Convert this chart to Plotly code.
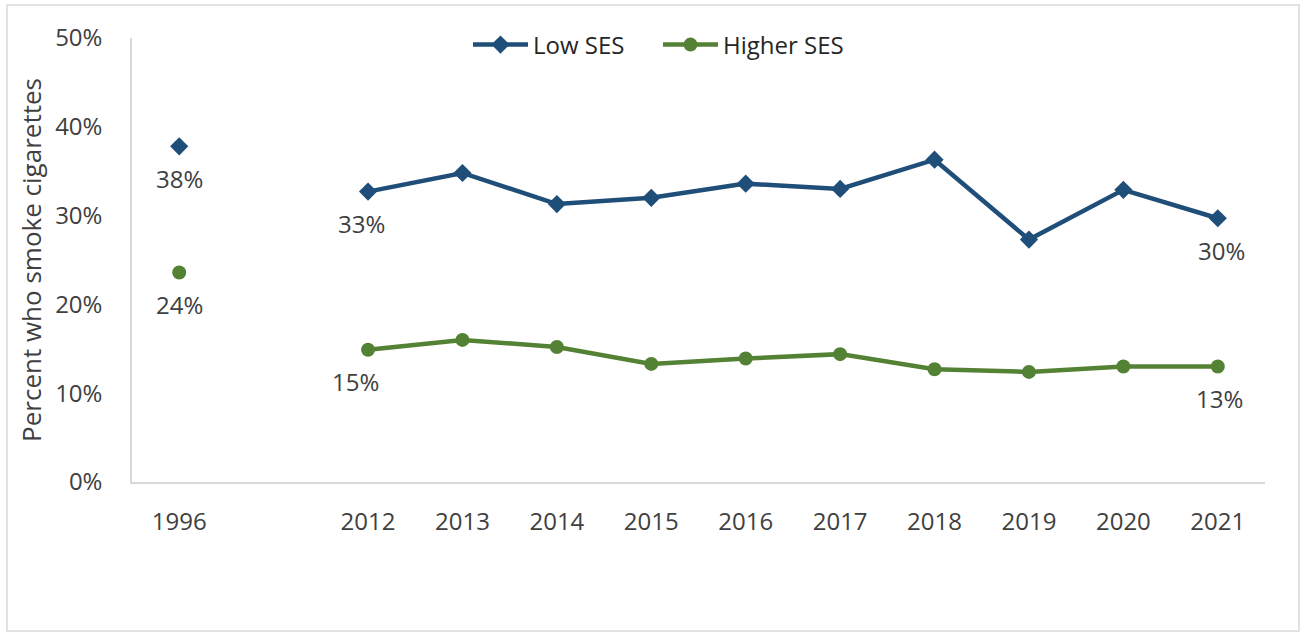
import plotly.graph_objects as go

# Survey years; the empty slot separates the 1996 baseline from the 2012+ series
years = ["1996", "", "2012", "2013", "2014", "2015", "2016", "2017", "2018", "2019", "2020", "2021"]
low_ses = [37.8, None, 32.7, 34.8, 31.3, 32.0, 33.6, 33.0, 36.3, 27.3, 32.9, 29.7]
higher_ses = [23.6, None, 14.9, 16.0, 15.2, 13.3, 13.9, 14.4, 12.7, 12.4, 13.0, 13.0]
labelled_years = ["1996", "2012", "2021"]
y_ticks = [0, 10, 20, 30, 40, 50]

BLUE = "#1F4E79"
GREEN = "#548235"
TEXT = "#404040"
FONT = "Open Sans"

W, H = 1303, 635
L, R, T, B = 132, 38, 38, 153

# one evenly spaced slot per entry in the year list
slots = list(range(len(years)))

fig = go.Figure()
fig.add_trace(go.Scatter(
    x=slots, y=low_ses, name="Low SES", mode="lines+markers",
    line=dict(color=BLUE, width=4.5),
    marker=dict(symbol="diamond", size=14, color=BLUE),
    connectgaps=False,
))
fig.add_trace(go.Scatter(
    x=slots, y=higher_ses, name="Higher SES", mode="lines+markers",
    line=dict(color=GREEN, width=4.5),
    marker=dict(symbol="circle", size=14, color=GREEN),
    connectgaps=False,
))

# Value labels under the first and last points of each series
xshifts = {
    "Low SES": {"1996": 0, "2012": -7, "2021": 4},
    "Higher SES": {"1996": 0, "2012": -13, "2021": 2},
}
for name, series in (("Low SES", low_ses), ("Higher SES", higher_ses)):
    for yr in labelled_years:
        i = years.index(yr)
        v = series[i]
        fig.add_annotation(
            x=slots[i], y=v, text=f"{round(v)}%", showarrow=False,
            xshift=xshifts[name][yr], yshift=-32,
            font=dict(family=FONT, size=24, color=TEXT),
        )

# Light frame around the whole chart
pw, ph = W - L - R, H - T - B
fig.add_shape(
    type="rect", xref="paper", yref="paper",
    x0=(7 - L) / pw, x1=(1299 - L) / pw,
    y0=1 - (631 - T) / ph, y1=1 - (5 - T) / ph,
    line=dict(color="#D9D9D9", width=1.5), fillcolor="rgba(0,0,0,0)", layer="below",
)

fig.update_layout(
    width=W, height=H,
    margin=dict(l=L, r=R, t=T, b=B),
    paper_bgcolor="white", plot_bgcolor="white",
    font=dict(family=FONT, color=TEXT, size=24),
    showlegend=True,
    legend=dict(
        orientation="h", x=(658 - L) / pw, xanchor="center",
        y=1 - (45 - T) / ph, yanchor="middle",
        font=dict(family=FONT, size=24, color="#262626"),
        bgcolor="rgba(0,0,0,0)", itemwidth=55, entrywidth=120,
    ),
    xaxis=dict(
        range=[-0.5, len(years) - 0.5], tickvals=slots, ticktext=years,
        showgrid=False, showline=True, linecolor="#D9D9D9", linewidth=1.5,
        ticks="", ticklabelstandoff=17, zeroline=False,
        tickfont=dict(family=FONT, size=24, color=TEXT),
    ),
    yaxis=dict(
        range=[0, 50], tickvals=y_ticks, ticktext=[f"{t}%" for t in y_ticks],
        showgrid=False, showline=True, linecolor="#D9D9D9", linewidth=1.5,
        ticks="", ticklabelstandoff=23, zeroline=False,
        tickfont=dict(family=FONT, size=24, color=TEXT),
        title=dict(text="Percent who smoke cigarettes", standoff=6,
                   font=dict(family=FONT, size=26, color=TEXT)),
    ),
)

fig.write_html("out.html")
